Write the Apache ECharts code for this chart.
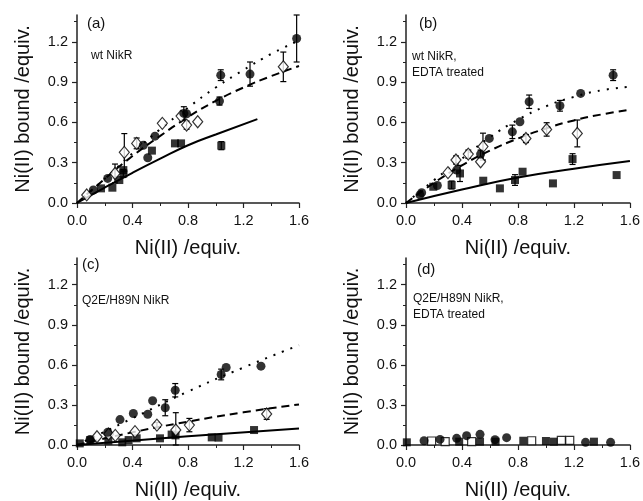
<!DOCTYPE html>
<html><head><meta charset="utf-8">
<script src="https://cdn.jsdelivr.net/npm/echarts@6/dist/echarts.min.js"></script>
<style>html,body{margin:0;padding:0;background:#fff}#c{width:643px;height:501px}</style>
</head><body><div id="c"></div>
<script>
// ---- data: [x, y, error] ----
const xTicks = [0, 0.4, 0.8, 1.2, 1.6];
const yTicks = [0, 0.3, 0.6, 0.9, 1.2];
const panelLabels = ['(a)', '(b)', '(c)', '(d)'];
const panelNotes = [['wt NikR'], ['wt NikR,', 'EDTA treated'], ['Q2E/H89N NikR'], ['Q2E/H89N NikR,', 'EDTA treated']];

const aCircle = [[0.118,0.097],[0.221,0.183],[0.478,0.43],[0.51,0.337],[0.562,0.498],[0.77,0.667,0.05],[0.79,0.665],[1.027,0.759,0.03],[1.036,0.952,0.04],[1.247,0.96,0.09],[1.583,1.225,0.175]];
const aSquare = [[0.173,0.109],[0.255,0.114],[0.305,0.171],[0.334,0.22,0.03],[0.334,0.245],[0.54,0.39],[0.706,0.444],[0.75,0.444],[1.04,0.427,0.03]];
const aDiamond = [[0.07,0.06],[0.274,0.22,0.07],[0.341,0.377,0.14],[0.43,0.444,0.04],[0.615,0.593],[0.75,0.647],[0.79,0.58,0.03],[0.87,0.605],[1.487,1.014,0.11]];
const aSolid = [[0,0],[0.2,0.115],[0.4,0.225],[0.6,0.33],[0.8,0.43],[1.0,0.51],[1.3,0.625]];
const aDashed = [[0,0],[0.2,0.18],[0.4,0.35],[0.6,0.5],[0.8,0.64],[1.0,0.76],[1.2,0.86],[1.4,0.945],[1.6,1.02]];
const aDotted = [[0,0],[0.2,0.18],[0.4,0.37],[0.6,0.55],[0.8,0.71],[1.0,0.86],[1.2,0.99],[1.4,1.11],[1.6,1.21]];

const bCircle = [[0.1,0.06],[0.112,0.077],[0.224,0.13],[0.362,0.245],[0.533,0.364,0.03],[0.595,0.481],[0.76,0.53,0.05],[0.814,0.605],[0.88,0.754,0.05],[1.1,0.724,0.04],[1.248,0.816],[1.48,0.952,0.04]];
const bSquare = [[0.195,0.121],[0.326,0.134,0.03],[0.386,0.22,0.06],[0.552,0.166],[0.671,0.109],[0.779,0.171,0.04],[0.833,0.233],[1.05,0.146],[1.19,0.327,0.04],[1.505,0.208]];
const bDiamond = [[0.30,0.226],[0.357,0.32,0.03],[0.445,0.364,0.03],[0.533,0.307],[0.55,0.42,0.1],[0.857,0.48,0.03],[1.005,0.548,0.05],[1.224,0.518,0.1]];
const bSolid = [[0,0],[0.4,0.1],[0.8,0.19],[1.2,0.255],[1.6,0.312]];
const bDashed = [[0,0],[0.2,0.15],[0.4,0.28],[0.6,0.39],[0.8,0.48],[1.0,0.555],[1.2,0.615],[1.4,0.66],[1.6,0.695]];
const bDotted = [[0,0],[0.2,0.17],[0.4,0.33],[0.6,0.49],[0.8,0.62],[1.0,0.72],[1.2,0.79],[1.4,0.84],[1.6,0.865]];

const cCircle = [[0.094,0.042],[0.221,0.095],[0.31,0.19],[0.406,0.236],[0.51,0.23],[0.545,0.331],[0.636,0.279,0.06],[0.708,0.41,0.05],[1.039,0.528,0.04],[1.075,0.58],[1.326,0.59]];
const cSquare = [[0.02,0.012],[0.096,0.037],[0.226,0.032],[0.326,0.02],[0.372,0.037],[0.43,0.05],[0.598,0.05],[0.682,0.078],[0.71,0.072],[0.971,0.057],[1.02,0.055],[1.276,0.112]];
const cDiamond = [[0.144,0.062],[0.228,0.082],[0.276,0.072],[0.418,0.1],[0.576,0.149,0.02],[0.712,0.112,0.13],[0.81,0.149,0.05],[1.367,0.232,0.04]];
const cSolid = [[0,0],[0.8,0.065],[1.6,0.124]];
const cDashed = [[0,0],[0.4,0.095],[0.8,0.175],[1.2,0.245],[1.6,0.304]];
const cDotted = [[0,0],[0.4,0.2],[0.8,0.4],[1.2,0.58],[1.6,0.747]];

const dCircle = [[0.129,0.032],[0.243,0.042],[0.362,0.05],[0.433,0.07],[0.529,0.08],[0.636,0.04],[0.719,0.055],[1.283,0.02],[1.462,0.02]];
const dSquare = [[0.006,0.02],[0.38,0.025],[0.529,0.025],[0.64,0.025],[0.838,0.032],[1.0,0.03],[1.057,0.025],[1.343,0.025]];
const dOpenSquare = [[0.183,0.03],[0.28,0.025],[0.469,0.025],[0.898,0.032],[1.11,0.035],[1.17,0.035]];

// ---- layout / style ----
const FONT = 'Liberation Sans';
const INK = '#000';
const TXT = '#111';
const grids = [
  {left: 77, top: 15, width: 222, height: 188},
  {left: 406, top: 15, width: 224, height: 188},
  {left: 77, top: 258, width: 222, height: 187},
  {left: 406, top: 258, width: 224, height: 187}
];
const panels = [
  {circle: aCircle, square: aSquare, diamond: aDiamond, solid: aSolid, dashed: aDashed, dotted: aDotted},
  {circle: bCircle, square: bSquare, diamond: bDiamond, solid: bSolid, dashed: bDashed, dotted: bDotted},
  {circle: cCircle, square: cSquare, diamond: cDiamond, solid: cSolid, dashed: cDashed, dotted: cDotted},
  {circle: dCircle, square: dSquare, openSquare: dOpenSquare}
];

const axisCommon = {
  axisLine: {lineStyle: {color: '#222', width: 1.5}},
  axisTick: {inside: false, length: 5, lineStyle: {color: '#222', width: 1.2}},
  minorTick: {show: true, splitNumber: 2, length: 3, lineStyle: {color: '#222', width: 1}},
  splitLine: {show: false},
  nameLocation: 'middle',
  nameTextStyle: {fontFamily: FONT, fontSize: 20, color: TXT}
};

const xAxes = grids.map((g, i) => Object.assign({}, axisCommon, {
  type: 'value', gridIndex: i, min: xTicks[0], max: xTicks[xTicks.length-1], interval: 0.4,
  name: 'Ni(II) /equiv.', nameGap: 35,
  axisLabel: {fontFamily: FONT, fontSize: 14.5, color: TXT, margin: 10, formatter: v => v.toFixed(1)}
}));
const yAxes = grids.map((g, i) => Object.assign({}, axisCommon, {
  type: 'value', gridIndex: i, min: 0, max: 1.4, interval: 0.3,
  name: 'Ni(II) bound /equiv.', nameGap: 44,
  axisTick: Object.assign({}, axisCommon.axisTick, {customValues: yTicks}),
  axisLabel: {fontFamily: FONT, fontSize: 14.5, color: TXT, margin: 9, customValues: yTicks, formatter: v => v.toFixed(1)}
}));

const series = [];
panels.forEach((p, i) => {
  const lines = [['solid', p.solid, 'solid'], ['dashed', p.dashed, [8, 5]], ['dotted', p.dotted, [2, 7]]];
  lines.forEach(([nm, d, t]) => {
    if (!d) return;
    series.push({type: 'line', xAxisIndex: i, yAxisIndex: i, data: d, smooth: true, showSymbol: false, symbol: 'none',
      lineStyle: {color: INK, width: 2, type: t}, z: 2, silent: true});
  });
  const errs = [].concat(p.circle || [], p.square || [], p.diamond || []).filter(r => r.length > 2);
  if (errs.length) {
    series.push({type: 'custom', xAxisIndex: i, yAxisIndex: i, data: errs, z: 3,
      renderItem: (params, api) => {
        const x = api.value(0), y = api.value(1), e = api.value(2);
        const top = api.coord([x, y + e]), bot = api.coord([x, Math.max(0, y - e)]);
        const w = 3;
        const st = {stroke: INK, lineWidth: 1.2};
        return {type: 'group', children: [
          {type: 'line', shape: {x1: top[0], y1: top[1], x2: bot[0], y2: bot[1]}, style: st},
          {type: 'line', shape: {x1: top[0]-w, y1: top[1], x2: top[0]+w, y2: top[1]}, style: st},
          {type: 'line', shape: {x1: bot[0]-w, y1: bot[1], x2: bot[0]+w, y2: bot[1]}, style: st}
        ]};
      }, encode: {x: 0, y: 1}});
  }
  if (p.square) series.push({type: 'scatter', xAxisIndex: i, yAxisIndex: i, data: p.square, symbol: 'rect', symbolSize: 8, itemStyle: {color: INK}, z: 4});
  if (p.openSquare) series.push({type: 'scatter', xAxisIndex: i, yAxisIndex: i, data: p.openSquare, symbol: 'rect', symbolSize: 8, itemStyle: {color: '#fff', borderColor: INK, borderWidth: 1.2}, z: 4});
  if (p.diamond) series.push({type: 'scatter', xAxisIndex: i, yAxisIndex: i, data: p.diamond, symbol: 'diamond', symbolSize: [10, 12], itemStyle: {color: '#fff', borderColor: INK, borderWidth: 1.2}, z: 5});
  if (p.circle) series.push({type: 'scatter', xAxisIndex: i, yAxisIndex: i, data: p.circle, symbol: 'circle', symbolSize: 9, itemStyle: {color: INK}, z: 6});
});

const labelPos = [[87, 25], [419, 25], [82, 266], [417, 271]];
const notePos = [[91, 57], [412, 58], [82, 302], [413, 300]];
const graphic = [];
panelLabels.forEach((t, i) => {
  graphic.push({type: 'text', left: labelPos[i][0], top: labelPos[i][1] - 9, style: {text: t, font: '15px "' + FONT + '"', fill: TXT}});
  panelNotes[i].forEach((n, k) => {
    graphic.push({type: 'text', left: notePos[i][0], top: notePos[i][1] - 7 + k * 16, style: {text: n, font: '12px "' + FONT + '"', fill: TXT}});
  });
});

const chart = echarts.init(document.getElementById('c'));
chart.setOption({
  animation: false,
  backgroundColor: '#fff',
  grid: grids,
  xAxis: xAxes,
  yAxis: yAxes,
  series: series,
  graphic: graphic
});
</script></body></html>
